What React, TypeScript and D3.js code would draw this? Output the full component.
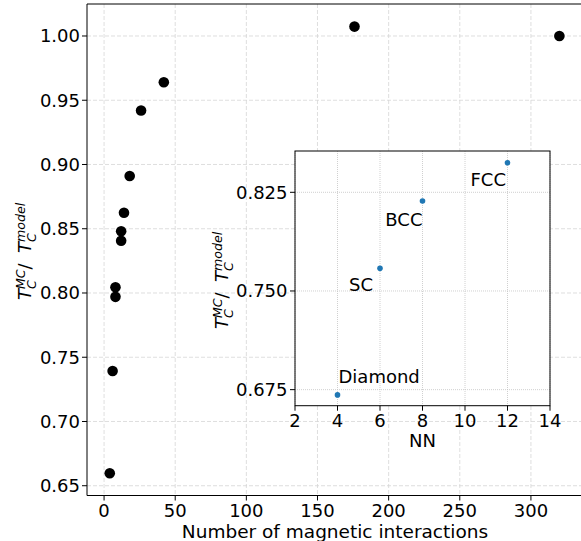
import * as d3 from "d3";

// main panel: number of magnetic interactions vs Tc ratio
const interactions = [4, 6, 8, 8, 12, 12, 14, 18, 26, 42, 176, 320];
const tcRatio = [0.6597, 0.7393, 0.797, 0.8045, 0.8407, 0.848, 0.8625, 0.891, 0.942, 0.964, 1.0073, 1.0];
const xTicks = [0, 50, 100, 150, 200, 250, 300];
const yTicks = [0.65, 0.7, 0.75, 0.8, 0.85, 0.9, 0.95, 1.0];

// inset: lattices
const lattices = ["Diamond", "SC", "BCC", "FCC"];
const nn = [4, 6, 8, 12];
const latticeRatio = [0.671, 0.7672, 0.8184, 0.8475];
const insetXTicks = [2, 4, 6, 8, 10, 12, 14];
const insetYTicks = [0.675, 0.75, 0.825];

const FONT = "DejaVu Sans, sans-serif";

function RatioLabel({ x, y }: { x: number; y: number }) {
  const it = { fontStyle: "italic" as const };
  return (
    <g transform={`translate(${x},${y}) rotate(-90)`} fontFamily={FONT}>
      <text x={-49} y={0} fontSize={18} {...it}>T</text>
      <text x={-38} y={-6.5} fontSize={12.6} {...it}>MC</text>
      <text x={-38} y={5} fontSize={12.6} {...it}>C</text>
      <text x={-18.5} y={0} fontSize={18}>/</text>
      <text x={-2} y={0} fontSize={18} {...it}>T</text>
      <text x={9} y={-6.5} fontSize={12.6} {...it}>model</text>
      <text x={9} y={5} fontSize={12.6} {...it}>C</text>
    </g>
  );
}

export default function App() {
  const W = 581;
  const H = 541;

  const x = d3.scaleLinear().domain([-12, 336.6]).range([87, 583]);
  const y = d3.scaleLinear().domain([0.6424, 1.0249]).range([495.5, 4]);

  const ix = d3.scaleLinear().domain([2, 14]).range([295, 550]);
  const iy = d3.scaleLinear().domain([0.6628, 0.8564]).range([405.7, 151]);

  // label placement relative to the point: [dx, dy, anchor]
  const labelOffset: Record<string, [number, number, string]> = {
    Diamond: [1, -12, "start"],
    SC: [-7, 23, "end"],
    BCC: [0, 25, "end"],
    FCC: [-1.5, 23, "end"],
  };

  return (
    <svg width={W} height={H} style={{ position: "absolute", left: 0, top: 0 }} fontFamily={FONT}>
      <rect width={W} height={H} fill="white" />

      {/* main grid */}
      <g stroke="#d6d6d6" strokeWidth={0.8} strokeDasharray="4,2">
        {xTicks.map((t) => (
          <line key={"gx" + t} x1={x(t)} x2={x(t)} y1={4} y2={495.5} />
        ))}
        {yTicks.map((t) => (
          <line key={"gy" + t} x1={87} x2={583} y1={y(t)} y2={y(t)} />
        ))}
      </g>

      {/* main points */}
      {interactions.map((v, i) => (
        <circle key={i} cx={x(v)} cy={y(tcRatio[i])} r={5.3} fill="black" />
      ))}

      {/* main spines */}
      <g stroke="black" strokeWidth={1}>
        <line x1={87} x2={583} y1={4} y2={4} />
        <line x1={87} x2={87} y1={4} y2={495.5} />
        <line x1={87} x2={583} y1={495.5} y2={495.5} />
      </g>

      {/* main ticks */}
      {xTicks.map((t) => (
        <g key={"tx" + t}>
          <line x1={x(t)} x2={x(t)} y1={495.5} y2={500.5} stroke="black" />
          <text x={x(t)} y={517} fontSize={18} textAnchor="middle">{t}</text>
        </g>
      ))}
      {yTicks.map((t) => (
        <g key={"ty" + t}>
          <line x1={82} x2={87} y1={y(t)} y2={y(t)} stroke="black" />
          <text x={80} y={y(t)} fontSize={18} textAnchor="end" dominantBaseline="central">
            {t.toFixed(2)}
          </text>
        </g>
      ))}
      <text x={335} y={538} fontSize={18.5} textAnchor="middle">Number of magnetic interactions</text>
      <RatioLabel x={31} y={251} />

      {/* inset */}
      <rect x={295} y={151} width={255} height={254.7} fill="white" />
      <g stroke="#c4c4c4" strokeWidth={0.8} strokeDasharray="1,1">
        {insetXTicks.map((t) => (
          <line key={"igx" + t} x1={ix(t)} x2={ix(t)} y1={151} y2={405.7} />
        ))}
        {insetYTicks.map((t) => (
          <line key={"igy" + t} x1={295} x2={550} y1={iy(t)} y2={iy(t)} />
        ))}
      </g>
      {nn.map((v, i) => (
        <circle key={"ip" + i} cx={ix(v)} cy={iy(latticeRatio[i])} r={2.8} fill="#1f77b4" />
      ))}
      {lattices.map((name, i) => {
        const [dx, dy, anchor] = labelOffset[name];
        return (
          <text
            key={name}
            x={ix(nn[i]) + dx}
            y={iy(latticeRatio[i]) + dy}
            fontSize={18}
            textAnchor={anchor}
          >
            {name}
          </text>
        );
      })}
      <rect x={295} y={151} width={255} height={254.7} fill="none" stroke="black" strokeWidth={1} />
      {insetXTicks.map((t) => (
        <g key={"itx" + t}>
          <line x1={ix(t)} x2={ix(t)} y1={405.7} y2={410.7} stroke="black" />
          <text x={ix(t)} y={427} fontSize={18} textAnchor="middle">{t}</text>
        </g>
      ))}
      {insetYTicks.map((t) => (
        <g key={"ity" + t}>
          <line x1={290} x2={295} y1={iy(t)} y2={iy(t)} stroke="black" />
          <text x={287.5} y={iy(t)} fontSize={18} textAnchor="end" dominantBaseline="central">
            {t.toFixed(3)}
          </text>
        </g>
      ))}
      <text x={422.5} y={447} fontSize={18} textAnchor="middle">NN</text>
      <RatioLabel x={228} y={280} />
    </svg>
  );
}
